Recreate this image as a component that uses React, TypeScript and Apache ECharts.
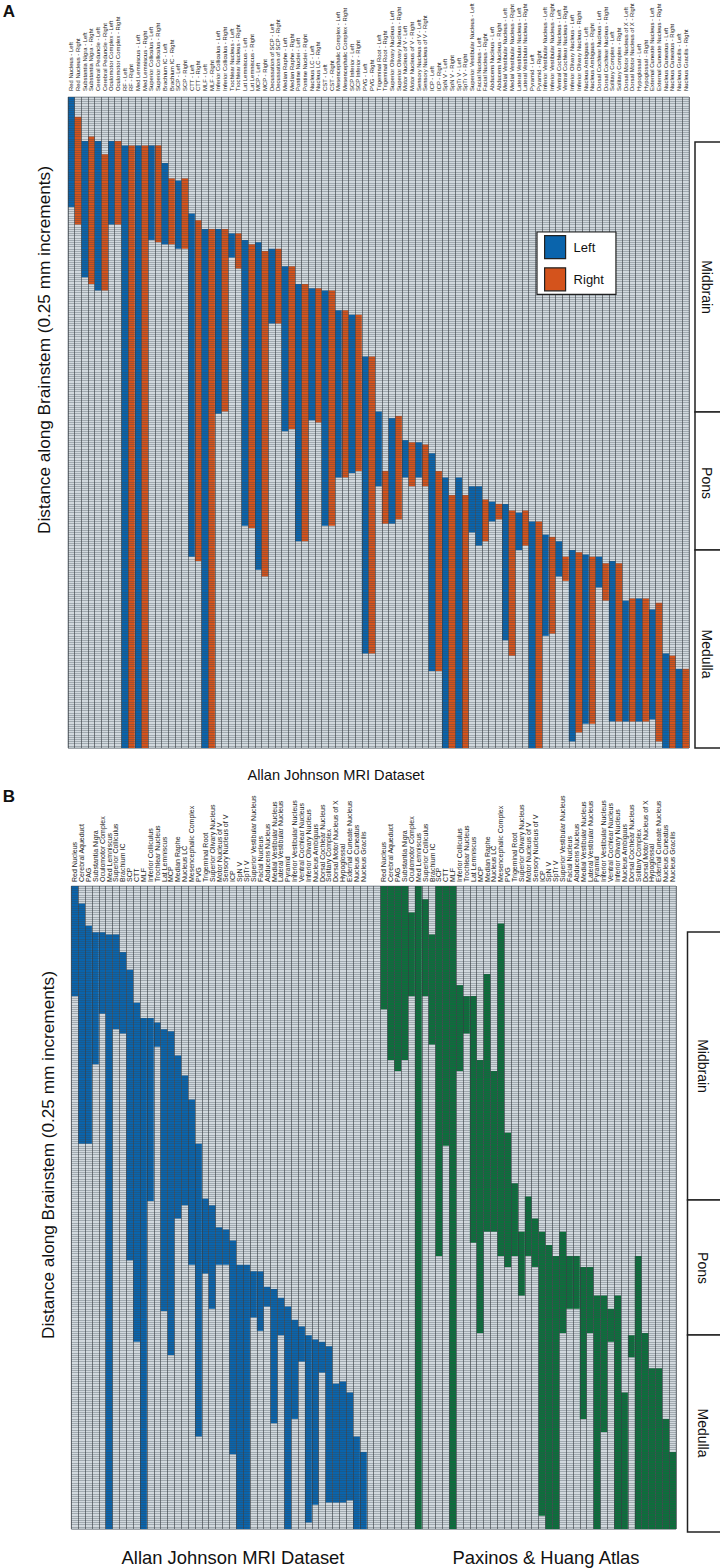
import React, { useEffect, useRef } from "react";
import * as echarts from "echarts";

const FONT = "'Liberation Sans', Arial, sans-serif";

const labelsA = [
  "Red Nucleus - Left","Red Nucleus - Right","Substantia Nigra - Left","Substantia Nigra - Right",
  "Cerebral Peduncle - Left","Cerebral Peduncle - Right","Oculomotor Complex - Left","Oculomotor Complex - Right",
  "RF - Left","RF - Right","Med Lemniscus - Left","Med Lemniscus - Right",
  "Superior Colliculus - Left","Superior Colliculus - Right","Brachium IC - Left","Brachium IC - Right",
  "SCP - Left","SCP - Right","CTT - Left","CTT - Right","MLF - Left","MLF - Right",
  "Inferior Colliculus - Left","Inferior Colliculus - Right","Trochlear Nucleus - Left","Trochlear Nucleus - Right",
  "Lat Lemniscus - Left","Lat Lemniscus - Right","MCP - Left","MCP - Right",
  "Decussation of SCP - Left","Decussation of SCP - Right","Median Raphe - Left","Median Raphe - Right",
  "Pontine Nuclei - Left","Pontine Nuclei - Right","Nucleus LC - Left","Nucleus LC - Right",
  "CST - Left","CST - Right","Mesencephalic Complex - Left","Mesencephalic Complex - Right",
  "SCP Inferior - Left","SCP Inferior - Right","PVG - Left","PVG - Right",
  "Trigeminal Root - Left","Trigeminal Root - Right","Superior Olivary Nucleus - Left","Superior Olivary Nucleus - Right",
  "Motor Nucleus of V - Left","Motor Nucleus of V - Right","Sensory Nucleus of V - Left","Sensory Nucleus of V - Right",
  "ICP - Left","ICP - Right","SpN V - Left","SpN V - Right","SpTr V - Left","SpTr V - Right",
  "Superior Vestibular Nucleus - Left","Facial Nucleus - Left","Facial Nucleus - Right",
  "Abducens Nucleus - Left","Abducens Nucleus - Right","Medial Vestibular Nucleus - Left","Medial Vestibular Nucleus - Right",
  "Lateral Vestibular Nucleus - Left","Lateral Vestibular Nucleus - Right","Pyramid - Left","Pyramid - Right",
  "Inferior Vestibular Nucleus - Left","Inferior Vestibular Nucleus - Right","Ventral Cochlear Nucleus - Left","Ventral Cochlear Nucleus - Right",
  "Inferior Olivary Nucleus - Left","Inferior Olivary Nucleus - Right","Nucleus Ambiguus - Left","Nucleus Ambiguus - Right",
  "Dorsal Cochlear Nucleus - Left","Dorsal Cochlear Nucleus - Right","Solitary Complex - Left","Solitary Complex - Right",
  "Dorsal Motor Nucleus of X - Left","Dorsal Motor Nucleus of X - Right","Hypoglossal - Left","Hypoglossal - Right",
  "External Cuneate Nucleus - Left","External Cuneate Nucleus - Right","Nucleus Cuneatus - Left","Nucleus Cuneatus - Right",
  "Nucleus Gracilis - Left","Nucleus Gracilis - Right",
];

// first and last row (0.25 mm steps) occupied by each structure
const rangesA: [number, number][] = [
  [0,50],[9,58],[20,82],[18,85],[20,88],[26,88],[20,58],[20,58],[22,296],[22,296],[22,296],[22,296],
  [22,65],[22,66],[30,67],[37,67],[38,69],[37,69],[53,209],[56,211],[60,296],[60,296],[60,144],[60,143],
  [62,73],[62,78],[65,195],[67,196],[66,215],[70,218],[69,103],[69,103],[77,152],[77,151],[85,202],[85,202],
  [87,147],[87,148],[88,195],[88,195],[97,173],[97,173],[99,171],[99,170],[118,253],[118,253],
  [143,177],[170,194],[146,194],[145,192],[156,173],[157,177],[157,173],[158,177],[162,261],[170,261],
  [173,296],[181,296],[173,296],[181,296],[177,198],[177,204],[183,202],[184,193],[185,192],[185,247],[188,254],
  [189,206],[188,204],[193,296],[193,296],[199,245],[200,244],[202,218],[209,220],[206,293],[207,289],
  [208,285],[209,285],[209,223],[212,229],[211,284],[212,284],[229,284],[228,284],[228,284],[228,284],
  [233,283],[230,293],[253,296],[254,296],[260,296],[260,296],
];

const labelsB = [
  "Red Nucleus","Cerebral Aqueduct","PAG","Substantia Nigra","Oculomotor Complex","Med Lemniscus","Superior Colliculus",
  "Brachium IC","SCP","CTT","MLF","Inferior Colliculus","Trochlear Nucleus","Lat Lemniscus","MCP","Median Raphe",
  "Nucleus LC","Mesencephalic Complex","PVG","Trigeminal Root","Superior Olivary Nucleus","Motor Nucleus of V",
  "Sensory Nucleus of V","ICP","SpN V","SpTr V","Superior Vestibular Nucleus","Facial Nucleus","Abducens Nucleus",
  "Medial Vestibular Nucleus","Lateral Vestibular Nucleus","Pyramid","Inferior Vestibular Nucleus","Ventral Cochlear Nucleus",
  "Inferior Olivary Nucleus","Nucleus Ambiguus","Dorsal Cochlear Nucleus","Solitary Complex","Dorsal Motor Nucleus of X",
  "Hypoglossal","External Cuneate Nucleus","Nucleus Cuneatus","Nucleus Gracilis",
];

const rangesMri: [number, number][] = [
  [0,50],[8,117],[18,117],[21,81],[21,58],[22,292],[22,65],[30,67],[38,170],[53,207],[60,292],[60,143],[62,73],
  [65,193],[66,213],[77,151],[86,145],[97,172],[117,250],[142,176],[145,192],[155,172],[156,172],[161,258],
  [172,292],[172,292],[175,196],[175,202],[182,191],[183,244],[187,204],[191,292],[197,242],[200,216],[204,289],
  [206,281],[207,221],[209,280],[226,280],[225,280],[230,279],[250,292],[257,292],
];

const rangesAtlas: [number, number][] = [
  [0,56],[0,79],[0,84],[0,79],[12,50],[0,292],[6,50],[22,72],[0,168],[0,118],[0,292],[45,84],[50,67],[50,162],
  [79,203],[40,157],[84,157],[17,168],[112,173],[135,168],[157,186],[141,168],[151,173],[157,286],[163,292],
  [168,292],[157,203],[168,192],[168,192],[173,242],[173,203],[186,292],[186,248],[192,207],[186,292],[230,292],
  [204,214],[168,292],[203,292],[219,292],[219,292],[242,292],[257,292],
];

const regionsA = [
  { name: "Midbrain", from: 142, to: 412, textY: 287 },
  { name: "Pons", from: 412, to: 550, textY: 483 },
  { name: "Medulla", from: 550, to: 748, textY: 654 },
];
const regionsB = [
  { name: "Midbrain", from: 932, to: 1200, textY: 1066 },
  { name: "Pons", from: 1200, to: 1335, textY: 1268 },
  { name: "Medulla", from: 1335, to: 1532, textY: 1433 },
];

const ROWS_A = 296;
const ROWS_B = 292;
const BLUE = "#0a64ac";
const ORANGE = "#d4531c";
const GREEN = "#0c6f3b";
const CELL = "#d2d9de";
const ROW_LINE = "rgba(60,70,80,0.32)";
const COL_LINE = "rgba(55,60,66,0.62)";

function axes(labels: string[], rows: number, gridIndex: number, fontSize: number, margin: number) {
  return {
    x: {
      type: "category", gridIndex, position: "top", data: labels, z: 5,
      axisLine: { show: false }, axisTick: { show: false },
      axisLabel: { interval: 0, rotate: 90, fontSize, margin, color: "#222", fontFamily: FONT, hideOverlap: false },
      splitLine: { show: true, interval: 0, lineStyle: { color: COL_LINE, width: 1 } },
    },
    y: {
      type: "value", gridIndex, inverse: true, min: 0, max: rows, interval: 1, z: 5,
      axisLine: { show: false }, axisTick: { show: false }, axisLabel: { show: false },
      splitLine: { show: true, lineStyle: { color: ROW_LINE, width: 1 } },
    },
  };
}

function stackSeries(name: string, stack: string, gridIndex: number, values: (number | string)[], color: string) {
  return {
    type: "bar", name, stack, xAxisIndex: gridIndex, yAxisIndex: gridIndex, barWidth: "100%", z: 2,
    silent: true, data: values, itemStyle: { color },
  };
}

function regionGraphics(regions: { name: string; from: number; to: number; textY: number }[], left: number, textX: number) {
  const out: any[] = [];
  regions.forEach((r) => {
    out.push({
      type: "rect", shape: { x: left, y: r.from, width: 40, height: r.to - r.from },
      style: { fill: "#fff", stroke: "#222", lineWidth: 1.5 }, z: 1,
    });
    out.push({
      type: "text", x: textX, y: r.textY, rotation: -Math.PI / 2, z: 2,
      style: { text: r.name, font: `14px ${FONT}`, fill: "#111", align: "center", verticalAlign: "middle" },
    });
  });
  return out;
}

function bodyText(text: string, x: number, y: number, size: number, rot = 0, weight = "normal") {
  return {
    type: "text", x, y, rotation: rot, z: 10,
    style: { text, font: `${weight} ${size}px ${FONT}`, fill: "#111", align: "center", verticalAlign: "middle" },
  };
}

export default function App() {
  const ref = useRef<HTMLDivElement>(null);
  useEffect(() => {
    document.body.style.margin = "0";
    const chart = echarts.init(ref.current!, null, { renderer: "svg" });

    const A = axes(labelsA, ROWS_A, 0, 5.9, 6);
    const catsB = [...labelsB, "", "", ...labelsB];
    const B = axes(catsB, ROWS_B, 1, 7, 4);

    const offA = rangesA.map((r) => r[0]);
    const leftA = rangesA.map((r, i) => (labelsA[i].endsWith("Left") ? r[1] - r[0] : 0));
    const rightA = rangesA.map((r, i) => (labelsA[i].endsWith("Right") ? r[1] - r[0] : 0));

    const gap = [0, 0];
    const offB = [...rangesMri.map((r) => r[0]), ...gap, ...rangesAtlas.map((r) => r[0])];
    const mri = [...rangesMri.map((r) => r[1] - r[0]), ...gap, ...rangesAtlas.map(() => 0)];
    const atlas = [...rangesMri.map(() => 0), ...gap, ...rangesAtlas.map((r) => r[1] - r[0])];

    chart.setOption({
      animation: false,
      grid: [
        { left: 68, top: 97, width: 621, height: 651, show: true, backgroundColor: CELL, borderColor: "#a3abb1", borderWidth: 1 },
        { left: 71.3, top: 886, width: 604.7, height: 643, show: true, backgroundColor: CELL, borderColor: "#a3abb1", borderWidth: 1 },
      ],
      xAxis: [A.x, B.x],
      yAxis: [A.y, B.y],
      legend: {
        left: 537, top: 232, orient: "vertical", data: ["Left", "Right"], selectedMode: false,
        backgroundColor: "#fff", borderColor: "#222", borderWidth: 1.2,
        padding: [3, 12, 3, 7], itemWidth: 21, itemHeight: 23, itemGap: 8, icon: "rect", z: 20,
        itemStyle: { borderColor: "#222", borderWidth: 1.2 },
        textStyle: { fontSize: 13, fontFamily: FONT, color: "#111", padding: [0, 0, 0, 3] },
      },
      series: [
        stackSeries("offsetA", "a", 0, offA, "transparent"),
        stackSeries("Left", "a", 0, leftA, BLUE),
        stackSeries("Right", "a", 0, rightA, ORANGE),
        stackSeries("offsetB", "b", 1, offB, "transparent"),
        stackSeries("Allan Johnson MRI Dataset", "b", 1, mri, BLUE),
        stackSeries("Paxinos & Huang Atlas", "b", 1, atlas, GREEN),
      ],
      graphic: [
        ...regionGraphics(regionsA, 695, 707),
        ...regionGraphics(regionsB, 687.5, 703),
        bodyText("A", 9, 11, 17, 0, "bold"),
        bodyText("B", 9, 796, 17, 0, "bold"),
        bodyText("Distance along Brainstem (0.25 mm increments)", 44, 350, 17.2, Math.PI / 2),
        bodyText("Distance along Brainstem (0.25 mm increments)", 48, 1155, 17.2, Math.PI / 2),
        bodyText("Allan Johnson MRI Dataset", 336, 775, 14.6),
        bodyText("Allan Johnson MRI Dataset", 233, 1557, 18.4),
        bodyText("Paxinos & Huang Atlas", 546, 1557, 18.4),
      ],
    });
    return () => chart.dispose();
  }, []);
  return <div ref={ref} style={{ width: 720, height: 1568 }} />;
}
